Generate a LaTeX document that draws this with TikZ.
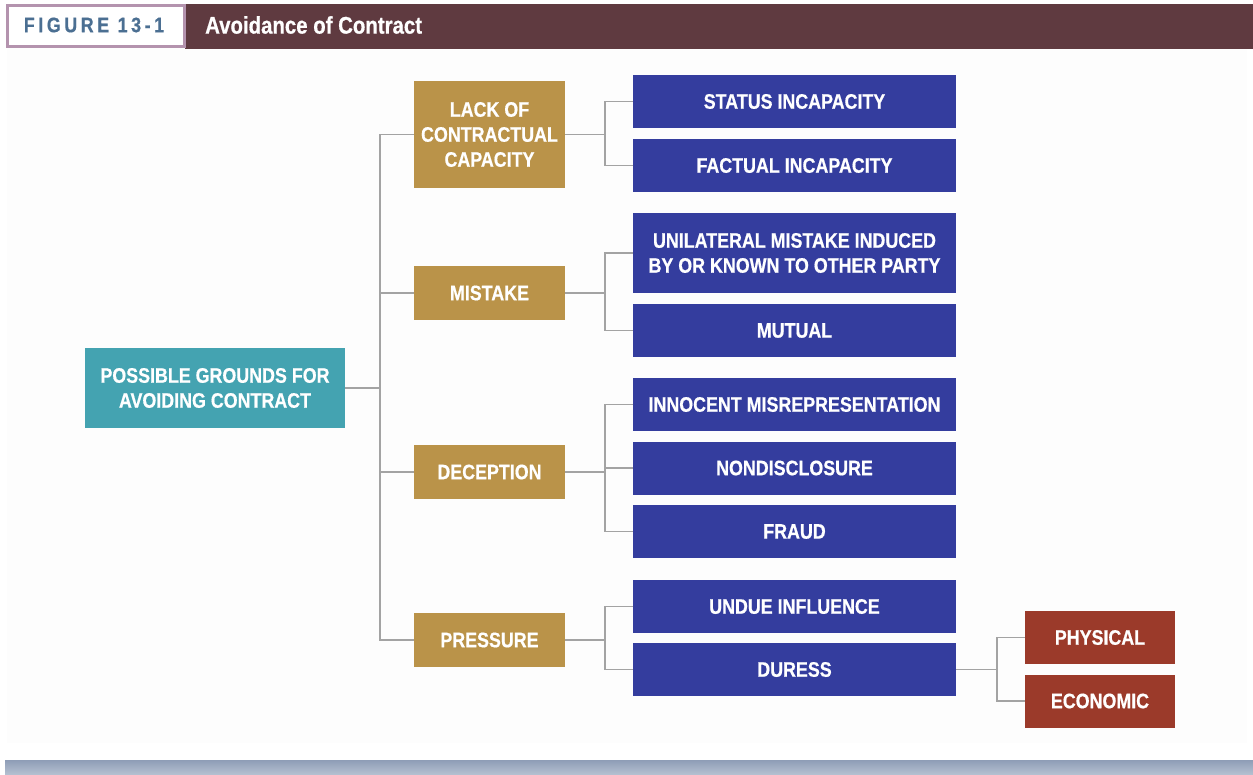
\documentclass[tikz,border=0pt]{standalone}
\usepackage{fontspec}
\setmainfont[FakeStretch=0.85,BoldFeatures={FakeBold=0.6}]{Liberation Sans}
\usepackage{tikz}

\definecolor{headred}{HTML}{5F3A40}
\definecolor{headrim}{HTML}{B493AE}
\definecolor{headblue}{HTML}{4B6F92}
\definecolor{rootteal}{HTML}{44A3B1}
\definecolor{gold}{HTML}{BA9349}
\definecolor{navy}{HTML}{343D9E}
\definecolor{brick}{HTML}{9B3A2A}
\definecolor{wire}{HTML}{A3A3A3}
\definecolor{shadowtop}{HTML}{8E9DB6}
\definecolor{shadowbot}{HTML}{B4BFD0}

\begin{document}
\begin{tikzpicture}[x=1pt,y=-1pt,
  box/.style={inner sep=0pt,text=white,align=center,
    font=\fontsize{21}{25}\selectfont\bfseries},
  rootbox/.style={box,fill=rootteal,minimum width=260pt,minimum height=80pt},
  goldbox/.style={box,fill=gold,minimum width=151pt,minimum height=54pt},
  navybox/.style={box,fill=navy,minimum width=323pt,minimum height=53pt},
  brickbox/.style={box,fill=brick,minimum width=150pt,minimum height=53pt},
  wire/.style={draw=wire,line width=1.6pt}]

\useasboundingbox (0,0) rectangle (1253,774);

% page and shadow
\fill[white] (0,0) rectangle (1253,774);
\fill[black!0.6] (7,48) rectangle (1247,743);
\shade[top color=shadowtop,bottom color=shadowbot] (5,760) rectangle (1253,774);

% header
\fill[headred] (185,4) rectangle (1253,49);
\draw[headrim,line width=3pt,fill=white] (7.5,5.5) rectangle (184,46);
\node (fig) at (94,25) {\color{headblue}\fontsize{21}{24}\selectfont\bfseries\addfontfeature{LetterSpace=17}FIGURE 13-1};
\node[anchor=west,inner sep=0pt] (title) at (205,25) {\color{white}\fontsize{24}{28}\selectfont\bfseries Avoidance of Contract};

% boxes
\node[rootbox] (root) at (215,388) {POSSIBLE GROUNDS FOR\\AVOIDING CONTRACT};

\node[goldbox,minimum height=107pt] (lack) at (489.5,134.5) {LACK OF\\CONTRACTUAL\\CAPACITY};
\node[goldbox] (mist) at (489.5,293) {MISTAKE};
\node[goldbox] (decep) at (489.5,472) {DECEPTION};
\node[goldbox] (press) at (489.5,640) {PRESSURE};

\node[navybox] (status) at (794.5,101.5) {STATUS INCAPACITY};
\node[navybox] (fact) at (794.5,165.5) {FACTUAL INCAPACITY};
\node[navybox,minimum height=80pt] (unil) at (794.5,253) {UNILATERAL MISTAKE INDUCED\\BY OR KNOWN TO OTHER PARTY};
\node[navybox] (mutual) at (794.5,330.5) {MUTUAL};
\node[navybox] (innoc) at (794.5,404.5) {INNOCENT MISREPRESENTATION};
\node[navybox] (nondis) at (794.5,468) {NONDISCLOSURE};
\node[navybox] (fraud) at (794.5,531.5) {FRAUD};
\node[navybox] (undue) at (794.5,606.5) {UNDUE INFLUENCE};
\node[navybox] (duress) at (794.5,669.5) {DURESS};

\node[brickbox] (phys) at (1100,637.5) {PHYSICAL};
\node[brickbox] (econ) at (1100,701) {ECONOMIC};

% connectors
\coordinate (j0) at (380,388);
\draw[wire] (root.east) -- (j0);
\draw[wire] (j0) |- (lack.west);
\draw[wire] (j0) |- (mist.west);
\draw[wire] (j0) |- (decep.west);
\draw[wire] (j0) |- (press.west);

\coordinate (j1) at (605,134.5);
\draw[wire] (lack.east) -- (j1);
\draw[wire] (j1) |- (status.west);
\draw[wire] (j1) |- (fact.west);

\coordinate (j2) at (605,293);
\draw[wire] (mist.east) -- (j2);
\draw[wire] (j2) |- (unil.west);
\draw[wire] (j2) |- (mutual.west);

\coordinate (j3) at (605,472);
\draw[wire] (decep.east) -- (j3);
\draw[wire] (j3) |- (innoc.west);
\draw[wire] (j3) |- (nondis.west);
\draw[wire] (j3) |- (fraud.west);

\coordinate (j4) at (605,640);
\draw[wire] (press.east) -- (j4);
\draw[wire] (j4) |- (undue.west);
\draw[wire] (j4) |- (duress.west);

\coordinate (j5) at (997,669.5);
\draw[wire] (duress.east) -- (j5);
\draw[wire] (j5) |- (phys.west);
\draw[wire] (j5) |- (econ.west);

\end{tikzpicture}
\end{document}
